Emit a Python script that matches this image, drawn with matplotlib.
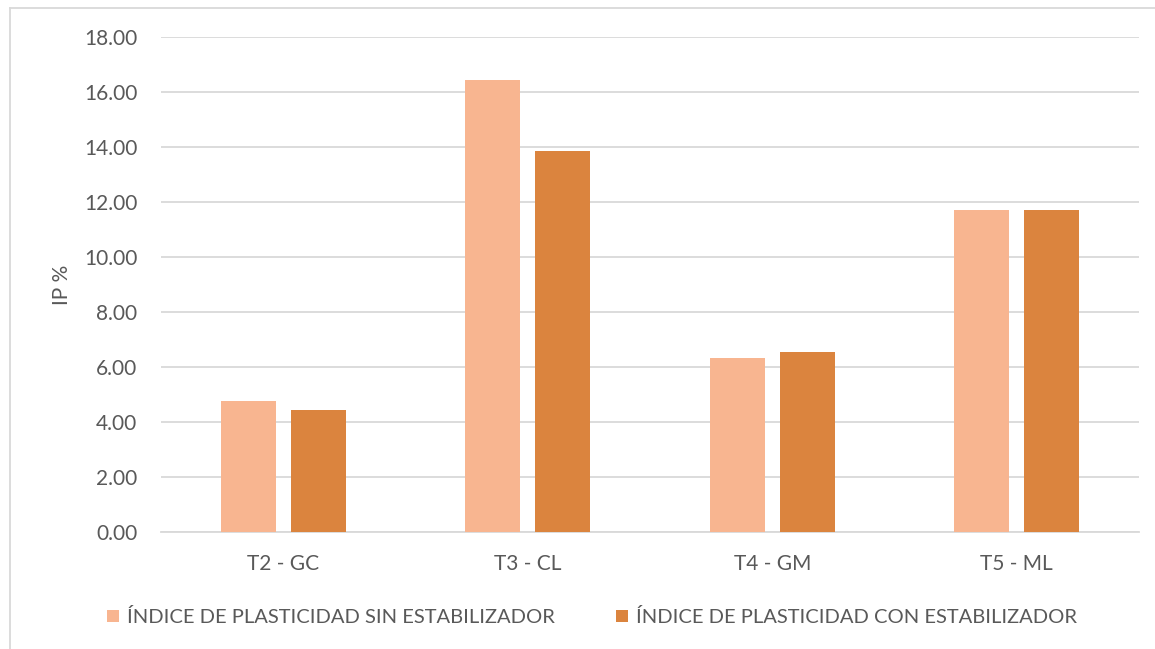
import matplotlib
matplotlib.use("Agg")
import matplotlib.pyplot as plt
from matplotlib.lines import Line2D
import numpy as np

categories = ["T2 - GC", "T3 - CL", "T4 - GM", "T5 - ML"]
ip_sin = [4.77, 16.45, 6.32, 11.71]
ip_con = [4.43, 13.84, 6.55, 11.71]
series_names = ["ÍNDICE DE PLASTICIDAD SIN ESTABILIZADOR",
                "ÍNDICE DE PLASTICIDAD CON ESTABILIZADOR"]
y_ticks = [0, 2, 4, 6, 8, 10, 12, 14, 16, 18]

c_light = "#F8B590"
c_dark = "#DB843E"
c_text = "#595959"
c_grid = "#D9D9D9"

plt.rcParams["font.family"] = ["Lato", "DejaVu Sans"]
fs = 15

W, H = 1155, 649
fig = plt.figure(figsize=(W / 100, H / 100), dpi=100)

# chart frame (top and left edges)
fig.add_artist(Line2D([10 / W, 1.0], [1 - 8 / H, 1 - 8 / H], color=c_grid, lw=1.3))
fig.add_artist(Line2D([10 / W, 10 / W], [0, 1 - 8 / H], color=c_grid, lw=1.3))

left, right, top, bottom = 161, 1139, 37, 532
ax = fig.add_axes([left / W, (H - bottom) / H, (right - left) / W, (bottom - top) / H])

x = np.arange(len(categories))
bw = 0.225
gap = 0.061
ax.bar(x - (bw + gap) / 2, ip_sin, width=bw, color=c_light, zorder=3, label=series_names[0])
ax.bar(x + (bw + gap) / 2, ip_con, width=bw, color=c_dark, zorder=3, label=series_names[1])

ax.set_xlim(-0.5, len(categories) - 0.5)
ax.set_ylim(0, 18)
ax.set_yticks(y_ticks)
ax.set_yticklabels([f"{v:.2f}" for v in y_ticks])
ax.set_xticks(x)
ax.set_xticklabels(categories)
ax.yaxis.grid(True, color=c_grid, lw=1.3, zorder=0)
ax.set_axisbelow(True)
for s in ["top", "right", "left"]:
    ax.spines[s].set_visible(False)
ax.spines["bottom"].set_color(c_grid)
ax.spines["bottom"].set_linewidth(1.3)
ax.tick_params(axis="both", length=0, colors=c_text, labelsize=fs)
ax.tick_params(axis="y", pad=17)
ax.tick_params(axis="x", pad=16)
ax.set_ylabel("IP %", color=c_text, fontsize=fs, labelpad=9)

leg = fig.legend(loc="center", bbox_to_anchor=(592 / W, 1 - 617 / H), ncol=2,
                 frameon=False, fontsize=14.5, handlelength=0.6, handleheight=0.6,
                 handletextpad=0.4, columnspacing=3.0)
for t in leg.get_texts():
    t.set_color(c_text)

fig.savefig("out.png", dpi=100)
